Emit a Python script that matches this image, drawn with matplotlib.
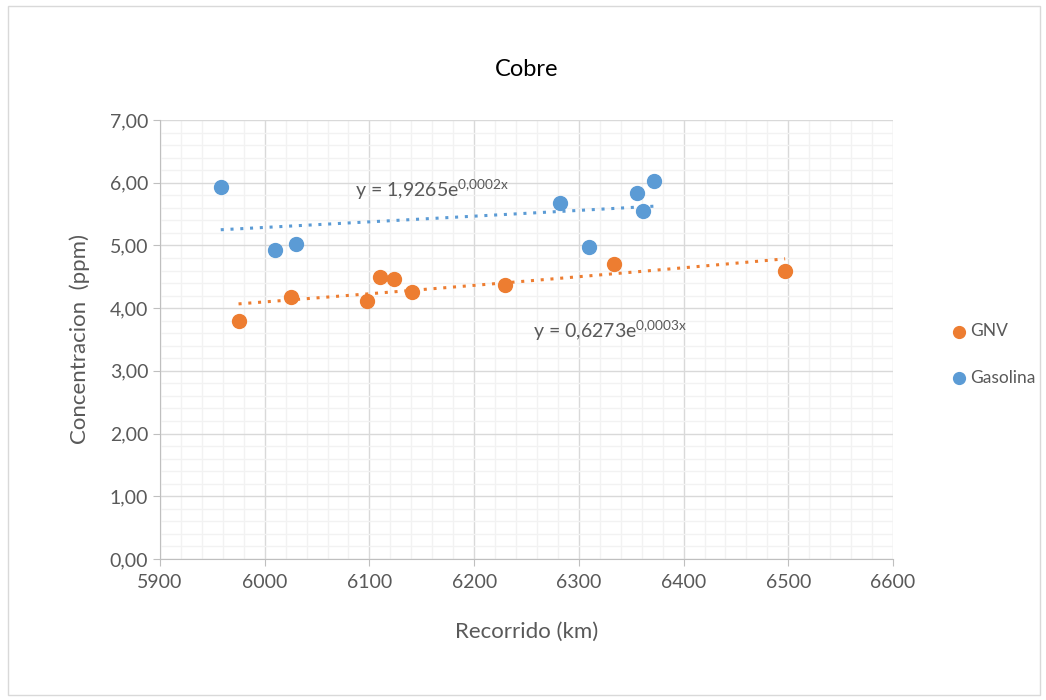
import numpy as np
import matplotlib.pyplot as plt
from matplotlib.patches import Rectangle
from matplotlib.ticker import MultipleLocator, FormatStrFormatter, FuncFormatter

plt.rcParams['font.family'] = ['Lato', 'DejaVu Sans']
plt.rcParams['mathtext.fontset'] = 'custom'
plt.rcParams['mathtext.rm'] = 'Lato'
plt.rcParams['mathtext.it'] = 'Lato'

# datos
gnv_x = [5975, 6025, 6098, 6110, 6123, 6141, 6229, 6334, 6497]
gnv_y = [3.80, 4.18, 4.11, 4.49, 4.47, 4.26, 4.37, 4.70, 4.60]
gas_x = [5958, 6010, 6030, 6282, 6310, 6356, 6361, 6372]
gas_y = [5.93, 4.92, 5.02, 5.68, 4.97, 5.84, 5.55, 6.03]

azul = '#5B9BD5'
naranja = '#ED7D31'
gris = '#595959'

fig = plt.figure(figsize=(10.46, 7.0), dpi=100)
ax = fig.add_axes([160/1046, 1-559/700, (893-160)/1046, (559-120)/700])
fig.patches.append(Rectangle((8/1046, 5/700), 1032/1046, 689/700, transform=fig.transFigure,
                             fill=False, edgecolor='#D9D9D9', linewidth=1))


def trend(x, y):
    b, a = np.polyfit(x, np.log(y), 1)
    xs = np.linspace(min(x), max(x), 100)
    return xs, np.exp(a) * np.exp(b * xs)


xs, ys = trend(gas_x, gas_y)
ax.plot(xs, ys, linestyle=(0, (1, 2.2)), color=azul, linewidth=2.2, zorder=3)
xs, ys = trend(gnv_x, gnv_y)
ax.plot(xs, ys, linestyle=(0, (1, 2.2)), color=naranja, linewidth=2.2, zorder=3)

ax.scatter(gnv_x, gnv_y, s=100, color=naranja, label='GNV', zorder=4)
ax.scatter(gas_x, gas_y, s=100, color=azul, label='Gasolina', zorder=4)

ax.set_xlim(5900, 6600)
ax.set_ylim(0, 7)
ax.xaxis.set_major_locator(MultipleLocator(100))
ax.xaxis.set_minor_locator(MultipleLocator(20))
ax.yaxis.set_major_locator(MultipleLocator(1))
ax.yaxis.set_minor_locator(MultipleLocator(0.2))
ax.yaxis.set_major_formatter(FuncFormatter(lambda v, p: f'{v:.2f}'.replace('.', ',')))
ax.xaxis.set_major_formatter(FormatStrFormatter('%d'))

ax.grid(which='major', color='#D9D9D9', linewidth=1)
ax.grid(which='minor', color='#F2F2F2', linewidth=1)
ax.set_axisbelow(True)
for s in ['top', 'right']:
    ax.spines[s].set_visible(False)
ax.spines['bottom'].set_color('#BFBFBF')
ax.spines['left'].set_color('#BFBFBF')
ax.tick_params(which='major', length=5, color='#BFBFBF', labelcolor=gris, labelsize=14)
ax.tick_params(which='minor', length=0)
ax.tick_params(axis='x', pad=6)

ax.set_title('Cobre', fontsize=17, color='#000000', pad=32)
ax.set_xlabel('Recorrido (km)', fontsize=16, color=gris, labelpad=22)
ax.set_ylabel('Concentracion  (ppm)', fontsize=16, color=gris, labelpad=14)

ax.text(6086, 5.78, r'y = 1,9265e$^{0{,}0002x}$', fontsize=14, color=gris)
ax.text(6256, 3.52, r'y = 0,6273e$^{0{,}0003x}$', fontsize=14, color=gris)

ax.legend(loc='center left', bbox_to_anchor=(1.045, 0.466), frameon=False, fontsize=12.5,
          labelcolor=gris, handletextpad=-0.35, labelspacing=1.75, markerscale=0.85)

fig.savefig('out.png', dpi=100)
